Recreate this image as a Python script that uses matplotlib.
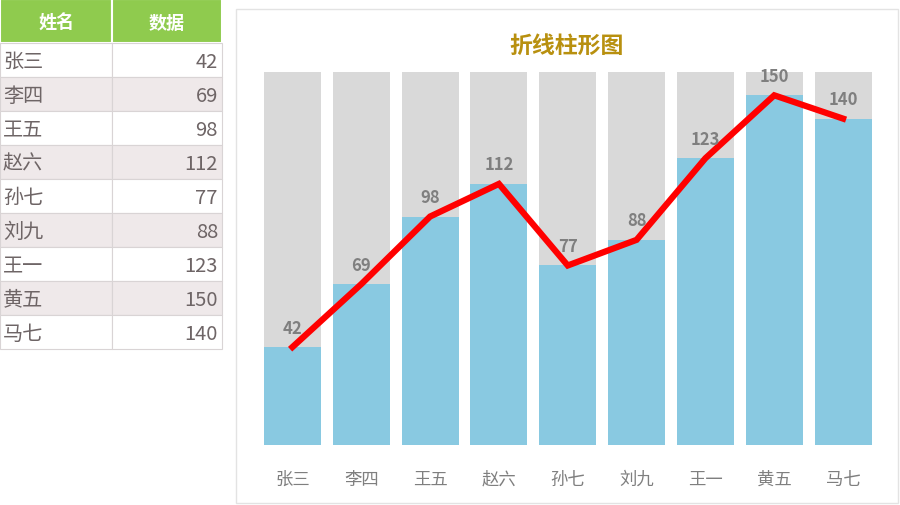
import matplotlib
matplotlib.use("Agg")
import matplotlib.pyplot as plt
from matplotlib.patches import Rectangle

plt.rcParams['font.family'] = ['Noto Sans CJK SC', 'DejaVu Sans']

names = ["张三", "李四", "王五", "赵六", "孙七", "刘九", "王一", "黄五", "马七"]
values = [42, 69, 98, 112, 77, 88, 123, 150, 140]
max_value = 160
headers = ["姓名", "数据"]
title = "折线柱形图"

W, H = 900, 506
fig = plt.figure(figsize=(W / 100, H / 100), dpi=100)
fig.patch.set_facecolor("white")

# overlay in pixel coordinates for table and panel
ov = fig.add_axes([0, 0, 1, 1])
ov.set_xlim(0, W)
ov.set_ylim(H, 0)
ov.axis("off")

# chart panel border
ov.add_patch(Rectangle((236, 10), 662, 494, facecolor="white", edgecolor="#E3E3E3", lw=1))

# table
hdr_h = 44
row_h = 34
col_x = [0, 112, 222]
ov.add_patch(Rectangle((0, 0), 112, hdr_h, facecolor="#8FCB4E", edgecolor="white", lw=1.5))
ov.add_patch(Rectangle((112, 0), 110, hdr_h, facecolor="#8FCB4E", edgecolor="white", lw=1.5))
ov.text(56, hdr_h / 2 + 1, headers[0], color="white", fontsize=13, fontweight="bold", ha="center", va="center")
ov.text(167, hdr_h / 2 + 1, headers[1], color="white", fontsize=13, fontweight="bold", ha="center", va="center")
for i, (n, v) in enumerate(zip(names, values)):
    y0 = hdr_h + i * row_h
    fc = "white" if i % 2 == 0 else "#EFE9EA"
    for j in range(2):
        ov.add_patch(Rectangle((col_x[j], y0), col_x[j + 1] - col_x[j], row_h,
                               facecolor=fc, edgecolor="#D9D4D5", lw=0.8))
    ov.text(3, y0 + row_h / 2 + 1, n, color="#6E6566", fontsize=14.5, fontweight="light",
            ha="left", va="center")
    ov.text(218, y0 + row_h / 2 + 1, str(v), color="#6E6566", fontsize=14.5, fontweight="light",
            ha="right", va="center")

# title
ov.text(567, 46, title, color="#B8900F", fontsize=16.5, fontweight="bold", ha="center", va="center")

# chart axes
ax = fig.add_axes([258 / W, (H - 446) / H, 619.5 / W, 373 / H])
x = list(range(len(names)))
ax.bar(x, [max_value] * len(names), width=0.83, color="#D9D9D9", zorder=1)
ax.bar(x, values, width=0.83, color="#89C9E1", zorder=2)
ax.plot(x, values, color="#FF0000", lw=4.5, zorder=3, solid_joinstyle="miter")
for xi, v in zip(x, values):
    ax.text(xi, v + 4.5, str(v), ha="center", va="bottom", color="#7F7F7F",
            fontsize=12, fontweight="bold", zorder=4, clip_on=False)
ax.set_xlim(-0.5, len(names) - 0.5)
ax.set_ylim(0, max_value)
ax.set_xticks(x)
ax.set_xticklabels(names, color="#7F7F7F", fontsize=12.5)
ax.tick_params(axis="x", length=0, pad=18)
ax.set_yticks([])
for s in ax.spines.values():
    s.set_visible(False)
ax.patch.set_alpha(0)

fig.savefig("out.png", dpi=100, facecolor="white")
